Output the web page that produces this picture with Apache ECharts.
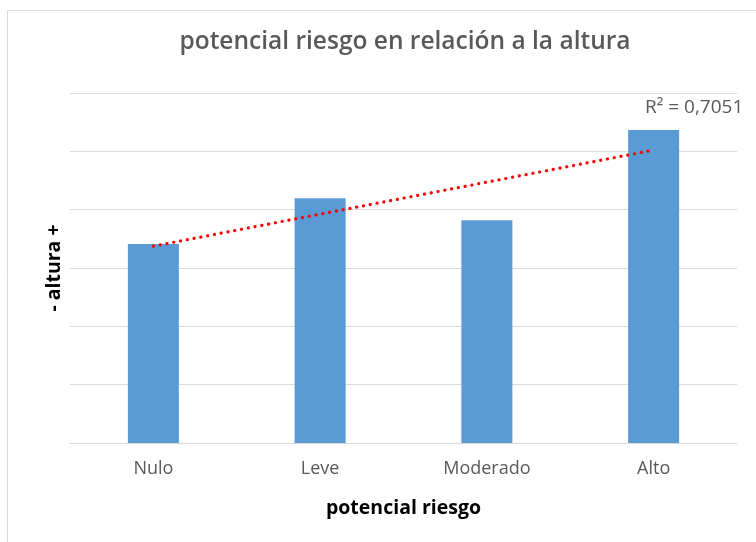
<!DOCTYPE html>
<html>
<head>
<meta charset="utf-8">
<script src="https://cdn.jsdelivr.net/npm/echarts@6/dist/echarts.min.js"></script>
<style>
  html, body { margin: 0; padding: 0; background: #ffffff; }
  #chart { width: 756px; height: 542px; }
</style>
</head>
<body>
<div id="chart"></div>
<script>
// Risk categories and bar heights (relative height units)
const categories = ['Nulo', 'Leve', 'Moderado', 'Alto'];
const alturaValues = [3.41, 4.195, 3.818, 5.366];
const rSquaredText = 'R² = 0,7051';

// Least-squares linear trend over the category index
function linearTrend(values) {
  const n = values.length;
  const xs = values.map((_, i) => i + 1);
  const mx = xs.reduce((a, b) => a + b, 0) / n;
  const my = values.reduce((a, b) => a + b, 0) / n;
  let sxy = 0, sxx = 0;
  for (let i = 0; i < n; i++) {
    sxy += (xs[i] - mx) * (values[i] - my);
    sxx += (xs[i] - mx) * (xs[i] - mx);
  }
  const slope = sxy / sxx;
  const intercept = my - slope * mx;
  return xs.map(x => intercept + slope * x);
}
const trendValues = linearTrend(alturaValues);

const chart = echarts.init(document.getElementById('chart'), null, { renderer: 'canvas' });
const textGray = '#595959';
const fontFamily = '"Open Sans", Lato, sans-serif';

chart.setOption({
  animation: false,
  backgroundColor: '#ffffff',
  textStyle: { fontFamily: fontFamily },
  title: {
    text: 'potencial riesgo en relación a la altura',
    left: 400,
    textAlign: 'center',
    top: 25,
    textStyle: { color: textGray, fontSize: 24.5, fontWeight: 600, fontFamily: fontFamily }
  },
  graphic: [{
    type: 'rect',
    shape: { x: 7.5, y: 10.5, width: 900, height: 700 },
    style: { fill: 'none', stroke: '#d9d9d9', lineWidth: 1 },
    silent: true,
    z: -1
  }, {
    type: 'text',
    left: 645,
    top: 98,
    style: { text: rSquaredText, fill: textGray, font: '19px ' + fontFamily }
  }],
  grid: { left: 70, right: 19, top: 93, bottom: 99 },
  xAxis: {
    type: 'category',
    data: categories,
    name: 'potencial riesgo',
    nameLocation: 'middle',
    nameGap: 55,
    nameTextStyle: { color: '#000000', fontSize: 19.5, fontWeight: 'bold' },
    axisLine: { lineStyle: { color: '#d9d9d9', width: 1 } },
    axisTick: { show: false },
    axisLabel: { color: textGray, fontSize: 18, margin: 17 }
  },
  yAxis: {
    type: 'value',
    min: 0,
    max: 6,
    interval: 1,
    name: '- altura +',
    nameLocation: 'middle',
    nameGap: 6,
    nameTextStyle: { color: '#000000', fontSize: 19.5, fontWeight: 'bold' },
    axisLine: { show: false },
    axisTick: { show: false },
    axisLabel: { show: false },
    splitLine: { lineStyle: { color: '#d9d9d9', width: 1 } }
  },
  series: [{
    name: 'altura',
    type: 'bar',
    data: alturaValues,
    barWidth: 51,
    itemStyle: { color: '#5b9bd5' },
    z: 2
  }, {
    name: 'tendencia',
    type: 'line',
    data: trendValues,
    symbol: 'none',
    lineStyle: { color: '#ff0000', width: 3.2, type: [0.1, 6.8], cap: 'round' },
    z: 3
  }]
});
</script>
</body>
</html>
